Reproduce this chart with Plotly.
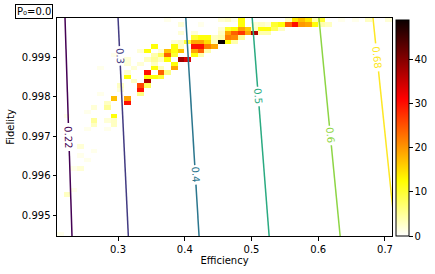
import numpy as np
import plotly.graph_objects as go
from plotly.colors import sample_colorscale

# ---------------- data ----------------
eff_range = [0.2085, 0.7105]
fid_range = [0.99447, 1.0]
n_bins = 50

# 2D histogram cells (column index from left, row index from top, count)
cell_col = [16, 24, 25, 26, 27, 34, 35, 36, 37, 38, 39, 42, 44, 46, 49,
            18, 21, 27, 29, 30, 31, 32, 33, 34, 35, 36, 37, 38, 39, 40,
            24, 25, 26, 27, 28, 29, 30, 31, 32, 33,
            18, 20, 24, 25, 26, 27, 28, 29, 30, 31,
            20, 21, 22, 23, 24, 25, 26, 27,
            17, 18, 19, 20, 21, 22, 23, 24, 25, 26,
            14, 17, 18, 20, 21, 22, 23,
            12, 13, 15, 16, 17, 18, 20, 21, 22,
            8, 14, 15, 16, 17, 20, 21,
            10, 13, 14, 15, 16, 18, 19,
            10, 12, 14, 17,
            6, 11, 14, 15, 17,
            10, 13, 15, 16,
            10, 13, 14, 15,
            11, 13,
            9, 12, 13,
            9, 12,
            6, 12,
            8, 10,
            7, 10,
            5, 7,
            4,
            1, 8,
            5, 7, 8,
            5, 8,
            4, 7,
            3, 5, 3, 4, 2, 3, 2, 1, 0]
cell_row = [0] * 15 + [1] * 15 + [2] * 10 + [3] * 10 + [4] * 8 + [5] * 10 + \
           [6] * 7 + [7] * 9 + [8] * 7 + [9] * 7 + [10] * 4 + [11] * 5 + \
           [12] * 4 + [13] * 4 + [14] * 2 + [15] * 3 + [16] * 2 + [17] * 2 + \
           [18] * 2 + [19] * 2 + [20] * 2 + [21] * 1 + [22] * 2 + [23] * 3 + \
           [24] * 2 + [25] * 2 + [29, 30, 31, 32, 34, 34, 39, 40, 49]
cell_count = [1, 2, 3, 1, 12, 3, 14, 17, 14, 4, 10, 1, 1, 3, 2,
              2, 1, 12, 2, 3, 2, 10, 12, 24, 30, 20, 19, 12, 4, 3,
              2, 10, 12, 19, 16, 3, 12, 12, 8, 3,
              2, 2, 3, 19, 24, 27, 19, 37, 4, 4,
              10, 12, 12, 3, 4, 22, 21, 5,
              2, 3, 10, 19, 19, 15, 3, 49, 12, 4,
              12, 12, 3, 30, 30, 22, 19,
              2, 12, 2, 17, 12, 17, 19, 24, 4,
              1, 4, 8, 24, 10, 12, 4,
              2, 3, 5, 3, 12, 38, 34,
              2, 2, 3, 12,
              1, 2, 12, 3, 19,
              2, 30, 24, 6,
              12, 12, 12, 10,
              3, 37,
              3, 26, 8,
              2, 30,
              1, 6,
              17, 19,
              3, 30,
              2, 5,
              1,
              1, 12,
              5, 2, 3,
              3, 3,
              1, 1,
              2, 1, 1, 1, 1, 2, 1, 3, 1]

# contour lines: level, efficiency at top / bottom edge,
# fidelity at the centre of the inline label
contour_levels = [0.22, 0.3, 0.4, 0.5, 0.6, 0.68]
contour_eff_top = [0.2205, 0.300, 0.4015, 0.501, 0.601, 0.682]
contour_eff_bottom = [0.231, 0.3154, 0.4214, 0.5264, 0.6328, 0.716]
contour_label_fid = [0.99698, 0.99904, 0.99602, 0.99801, 0.99702, 0.99900]

x_ticks = [0.3, 0.4, 0.5, 0.6, 0.7]
y_ticks = [0.995, 0.996, 0.997, 0.998, 0.999]
cbar_ticks = [0, 10, 20, 30, 40]
count_max = 49

# ---------------- figure ----------------
W, H = 435, 274
L, R, T, B = 57, 43, 18, 38
pw, ph = W - L - R, H - T - B

dx = (eff_range[1] - eff_range[0]) / n_bins
dy = (fid_range[1] - fid_range[0]) / n_bins
xc = eff_range[0] + dx * (np.arange(n_bins) + 0.5)
yc = fid_range[0] + dy * (np.arange(n_bins) + 0.5)
z = np.full((n_bins, n_bins), np.nan)
for c, r, v in zip(cell_col, cell_row, cell_count):
    z[n_bins - 1 - r, c] = v
zlist = [[None if np.isnan(v) else float(v) for v in row] for row in z]

hot_r = [[0.0, 'rgb(255,255,255)'], [0.254, 'rgb(255,255,0)'],
         [0.635, 'rgb(255,0,0)'], [1.0, 'rgb(11,0,0)']]

font = dict(family='DejaVu Sans', size=10, color='black')
fig = go.Figure()
fig.add_trace(go.Heatmap(
    x=xc, y=yc, z=zlist, colorscale=hot_r, zmin=0, zmax=count_max,
    hoverongaps=False, xgap=0, ygap=0,
    colorbar=dict(thickness=13, len=216 / ph, lenmode='fraction', x=1 + 4 / pw,
                  xanchor='left', y=0.5 - 1 / ph, yanchor='middle',
                  outlinecolor='black', outlinewidth=1, ticks='outside',
                  ticklen=3.5, tickcolor='black', tickvals=cbar_ticks,
                  tickfont=font, xpad=0, ypad=0)))

lo, hi = min(contour_levels), max(contour_levels)
colors = sample_colorscale('Viridis', [(v - lo) / (hi - lo) for v in contour_levels])
fid_span = fid_range[1] - fid_range[0]
eff_span = eff_range[1] - eff_range[0]
for lev, et, eb, lf, col in zip(contour_levels, contour_eff_top, contour_eff_bottom,
                                contour_label_fid, colors):
    def ex(f):
        return et + (eb - et) * (fid_range[1] - f) / fid_span
    label = f'{lev:g}'
    gap = (8.5 * len(label) - 6) / ph * fid_span
    segs = [(fid_range[1], lf + gap / 2), (lf - gap / 2, fid_range[0])]
    for f1, f2 in segs:
        fig.add_trace(go.Scatter(x=[ex(f1), ex(f2)], y=[f1, f2], mode='lines',
                                 line=dict(color=col, width=1.5),
                                 showlegend=False, hoverinfo='skip'))
    ang = np.degrees(np.arctan2(ph, (eb - et) / eff_span * pw))
    fig.add_annotation(x=ex(lf), y=lf, text=label, showarrow=False, textangle=ang,
                       font=dict(family='DejaVu Sans', size=10, color=col))

fig.add_annotation(xref='paper', yref='paper', x=(15 - L) / pw, y=(H - B - 4) / ph,
                   xanchor='left', yanchor='top', text='P₀=0.0', showarrow=False,
                   font=font, bordercolor='black', borderwidth=1, borderpad=1,
                   bgcolor='white')

axis_common = dict(showline=True, mirror=True, linecolor='black', linewidth=1,
                   ticks='outside', ticklen=3.5, tickcolor='black', showgrid=False,
                   zeroline=False, tickfont=font, automargin=False)
fig.update_layout(
    width=W, height=H, margin=dict(l=L, r=R, t=T, b=B, autoexpand=False),
    paper_bgcolor='white', plot_bgcolor='white', showlegend=False,
    font=font,
    xaxis=dict(range=eff_range, tickvals=x_ticks, ticktext=[f'{v:g}' for v in x_ticks],
               title=dict(text='Efficiency', font=font, standoff=3), **axis_common),
    yaxis=dict(range=fid_range, tickvals=y_ticks, ticktext=[f'{v:g}' for v in y_ticks],
               title=dict(text='Fidelity', font=font, standoff=5), **axis_common),
)
fig.write_html('out.html', config={'displayModeBar': False},
               post_script="document.body.style.margin='0px';")
